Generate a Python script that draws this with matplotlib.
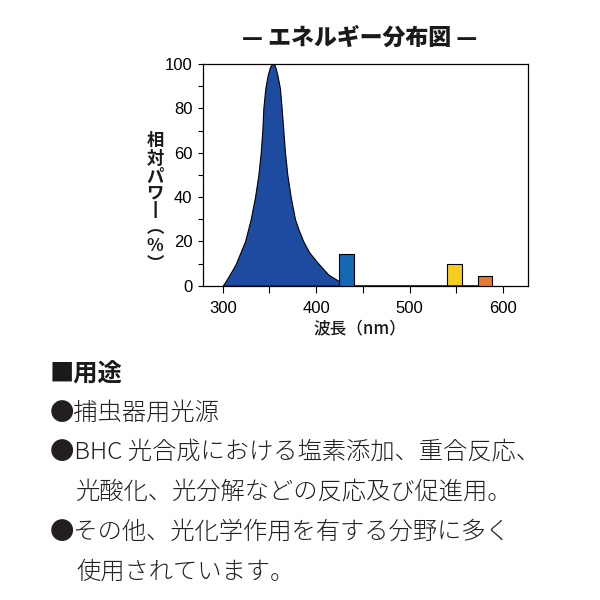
import matplotlib
matplotlib.use('Agg')
import matplotlib.pyplot as plt
from matplotlib.ticker import MultipleLocator

plt.rcParams['font.family'] = ['Liberation Sans', 'Noto Sans CJK JP']

# スペクトル（ピーク部分）: 波長 nm と相対パワー %
peak_wl = [300, 303.5, 307.1, 310.8, 314.2, 319, 323.9, 330, 334.6, 338.2, 340.7, 342.4, 343.5, 345.6, 348.2, 350.5, 352.5,
           354.9, 356.8, 358.5, 361.3, 363.1, 364.9, 366.7, 369.2, 372.8, 377.4, 381.5, 386.3, 392.7, 402.4, 413.1, 424.8, 424.8]
peak_power = [0, 2.2, 4.8, 7.4, 10, 15, 20, 30, 40, 50, 60, 70, 80, 89, 95, 98.5, 100,
              100, 98, 95, 89, 80, 70, 60, 50, 40, 30, 25, 20, 15, 10, 5, 2, 0]

# 輝線（バー）
line_left = [424.8, 539.8, 572.9]
line_right = [440.9, 555.8, 587.9]
line_power = [14.3, 9.8, 4.5]
line_colors = ['#1468b4', '#f5cd1f', '#e8782c']

baseline_wl = [440.9, 572.9]

title = '— エネルギー分布図 —'
ylabel = '\n'.join(['相', '対', 'パ', 'ワ', '丨', '︵', '%', '︶'])
usage_lines = [
    ('●捕虫器用光源', 50, 413),
    ('●BHC 光合成における塩素添加、重合反応、', 50, 453),
    ('光酸化、光分解などの反応及び促進用。', 76, 493),
    ('●その他、光化学作用を有する分野に多く', 50, 532),
    ('使用されています。', 76, 572),
]

fig = plt.figure(figsize=(6, 6), dpi=100)
ax = fig.add_axes([202.7 / 600, 1 - 285.7 / 600, (528 - 202.7) / 600, (285.7 - 64) / 600])

ax.fill_between(peak_wl, peak_power, color='#1d4ba0', edgecolor='black', linewidth=0.8, zorder=2)
widths = [r - l for l, r in zip(line_left, line_right)]
ax.bar(line_left, line_power, width=widths, align='edge', color=line_colors,
       edgecolor='black', linewidth=0.8, zorder=3)
ax.plot(baseline_wl, [0, 0], color='black', linewidth=1.8, zorder=4, solid_capstyle='butt')

ax.set_xlim(278.6, 626.8)
ax.set_ylim(0, 100)
ax.xaxis.set_major_locator(MultipleLocator(100))
ax.xaxis.set_minor_locator(MultipleLocator(50))
ax.yaxis.set_major_locator(MultipleLocator(20))
ax.yaxis.set_minor_locator(MultipleLocator(10))
ax.tick_params(axis='x', which='both', direction='out', length=5, width=0.8, pad=6, labelsize=12)
ax.tick_params(axis='y', which='both', direction='out', length=3.5, width=0.8, pad=4, labelsize=12)
for s in ax.spines.values():
    s.set_linewidth(0.9)

fig.text(360 / 600, 1 - 38 / 600, title, ha='center', va='center', fontsize=16.5,
         fontweight='heavy', family=['Noto Sans CJK JP', 'DejaVu Sans'], color='#1a1a1a')

# 縦書きのラベル
fig.text(155 / 600, 1 - 132 / 600, ylabel, ha='center', va='top', ma='center', fontsize=12.5,
         linespacing=0.97, fontweight='bold', family=['Noto Sans CJK JP', 'DejaVu Sans'], color='#1a1a1a')

fig.text(360 / 600, 1 - 328 / 600, '波長（nm）', ha='center', va='center', fontsize=12,
         fontweight='medium', family=['Noto Sans CJK JP'], color='#1a1a1a')

fig.text(50 / 600, 1 - 375 / 600, '■用途', ha='left', va='center', fontsize=17.5,
         fontweight='bold', family=['Noto Sans CJK JP'], color='#1a1a1a')
for txt, x, y in usage_lines:
    fig.text(x / 600, 1 - y / 600, txt, ha='left', va='center', fontsize=17.5,
             fontweight='light', family=['Noto Sans CJK JP'], color='#231f20')

fig.savefig('out.png', dpi=100)
